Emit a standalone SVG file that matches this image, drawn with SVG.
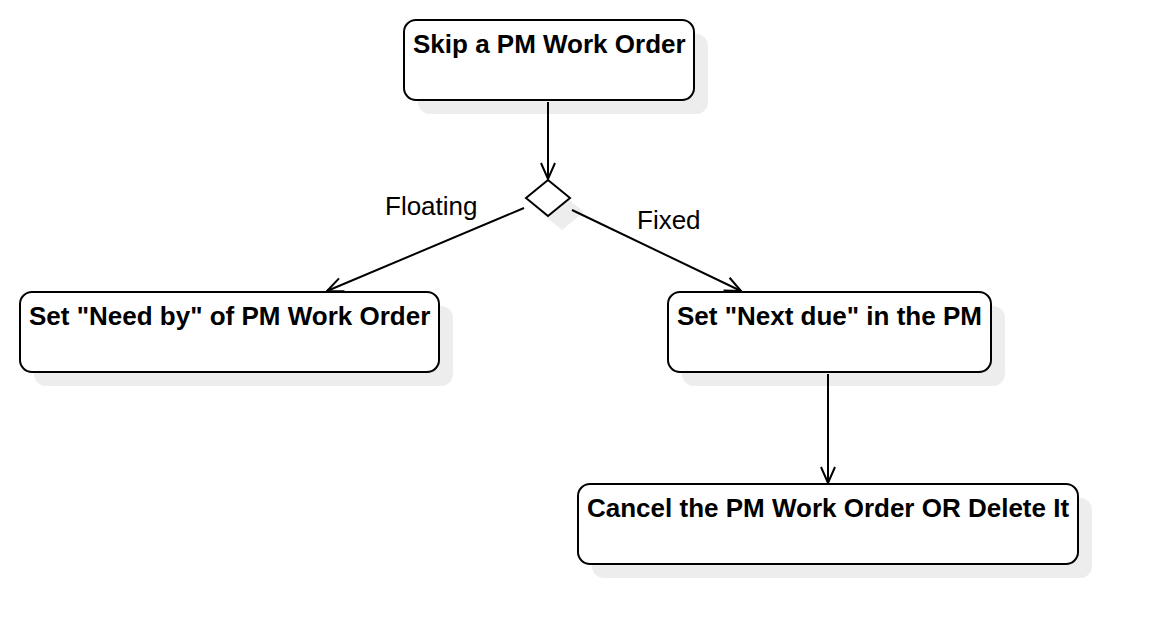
<svg xmlns="http://www.w3.org/2000/svg" width="1158" height="644" viewBox="0 0 1158 644">
<style>
.box{fill:#ffffff;stroke:#000000;stroke-width:2}
.shadow{fill:#ededed;stroke:none}
.t{font-family:"Liberation Sans",Arial,sans-serif;font-weight:bold;font-size:26px;fill:#000}
.lbl{font-family:"Liberation Sans",Arial,sans-serif;font-size:26px;fill:#000}
.edge{fill:none;stroke:#000;stroke-width:2}
</style>
<defs>
<marker id="arr" viewBox="0 0 20 20" refX="18" refY="10" markerWidth="20" markerHeight="20" markerUnits="userSpaceOnUse" orient="auto">
<path d="M2,3 L18,10 L2,17" fill="none" stroke="#000" stroke-width="2"/>
</marker>
</defs>
<rect width="1158" height="644" fill="#ffffff"/>
<g id="n1">
<rect class="shadow" x="418" y="34" width="290" height="80" rx="12"/>
<rect class="box" x="404" y="20" width="290" height="80" rx="12"/>
<text class="t" x="413" y="53">Skip a PM Work Order</text>
</g>
<g id="decision">
<polygon class="shadow" points="562,194 584,212 562,230 540,212"/>
<polygon points="548,180 570,198 548,216 526,198" fill="#fff" stroke="#000" stroke-width="2"/>
</g>
<g id="n2">
<rect class="shadow" x="34" y="306" width="419" height="80" rx="12"/>
<rect class="box" x="20" y="292" width="419" height="80" rx="12"/>
<text class="t" x="29" y="325">Set "Need by" of PM Work Order</text>
</g>
<g id="n3">
<rect class="shadow" x="682" y="306" width="323" height="80" rx="12"/>
<rect class="box" x="668" y="292" width="323" height="80" rx="12"/>
<text class="t" x="677" y="325">Set "Next due" in the PM</text>
</g>
<g id="n4">
<rect class="shadow" x="592" y="498" width="500" height="80" rx="12"/>
<rect class="box" x="578" y="484" width="500" height="80" rx="12"/>
<text class="t" x="587" y="517">Cancel the PM Work Order OR Delete It</text>
</g>
<g id="connectors">
<line class="edge" x1="548" y1="102" x2="548" y2="179" marker-end="url(#arr)"/>
<line class="edge" x1="524" y1="208" x2="327" y2="291" marker-end="url(#arr)"/>
<line class="edge" x1="572" y1="210" x2="741" y2="291" marker-end="url(#arr)"/>
<line class="edge" x1="828" y1="374" x2="828" y2="483" marker-end="url(#arr)"/>
<text class="lbl" x="385" y="215">Floating</text>
<text class="lbl" x="637" y="229">Fixed</text>
</g>
</svg>
